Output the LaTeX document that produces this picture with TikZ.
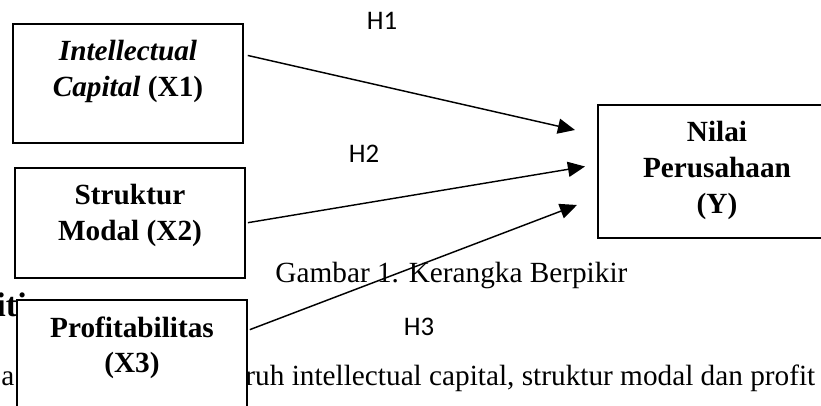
\documentclass[tikz,border=0pt]{standalone}
\usepackage{fontspec}
\setmainfont{Liberation Serif}
\newfontfamily\calibri{Carlito}
\usetikzlibrary{positioning, calc}
\usetikzlibrary{arrows.meta}

\tikzset{
    box/.style={draw, line width=0.8pt, fill=white, inner sep=0pt},
    boxtext/.style={align=center, inner sep=0pt, font=\fontsize{12}{14.6}\selectfont\bfseries},
    hlabel/.style={inner sep=0pt, font=\calibri\fontsize{11}{13}\selectfont},
    arr/.style={line width=0.6pt, -{Triangle[length=7pt,width=6.2pt]}},
    pagetext/.style={inner sep=0pt, anchor=base west, font=\fontsize{12}{14}\selectfont}
}

\begin{document}
\begin{tikzpicture}[x=0.41pt, y=-0.41pt]
            \clip (0,0) rectangle (821,406);
            % page text behind the figure
            \node[pagetext, font=\fontsize{14}{16}\selectfont\bfseries] (sec) at (-4,317) {iti};
            \node[pagetext] (parA) at (1,386) {a};
            \node[pagetext] (parB) at (245,386) {ruh intellectual capital, struktur modal dan profit};
            \node[pagetext] (caption) at (275,282) {Gambar 1. Kerangka Berpikir};
            % variables
            \node[box, minimum width=94.3pt, minimum height=48.8pt] (x1) at (128,83.5) {};
            \node[box, minimum width=94.3pt, minimum height=45.1pt] (x2) at (130,223) {};
            \node[box, minimum width=94.3pt, minimum height=45.1pt] (x3) at (132,355) {};
            \node[box, minimum width=97.6pt, minimum height=54.5pt] (y) at (717,171.5) {};
            \node[boxtext, below=7pt of x1.north] (x1txt) {\textit{Intellectual}\\\textit{Capital} (X1)};
            \node[boxtext, below=7pt of x2.north] (x2txt) {Struktur\\Modal (X2)};
            \node[boxtext, below=7pt of x3.north] (x3txt) {Profitabilitas\\(X3)};
            \node[boxtext, below=7pt of y.north] (ytxt) {Nilai\\Perusahaan\\(Y)};
            % hypotheses
            \coordinate (tip1) at (575,130);
            \coordinate (tip2) at (585,166.5);
            \coordinate (tip3) at (577,205);
            \draw[arr, shorten <=1.6pt] (x1.14) -- (tip1);
            \draw[arr, shorten <=0.8pt] (x2.east) -- (tip2);
            \draw[arr, shorten <=0.8pt] (x3.12) -- (tip3);
            \node[hlabel] (h1) at (382,21) {H1};
            \node[hlabel] (h2) at (364,153.5) {H2};
            \node[hlabel] (h3) at (419,327) {H3};
        \end{tikzpicture}
\end{document}
